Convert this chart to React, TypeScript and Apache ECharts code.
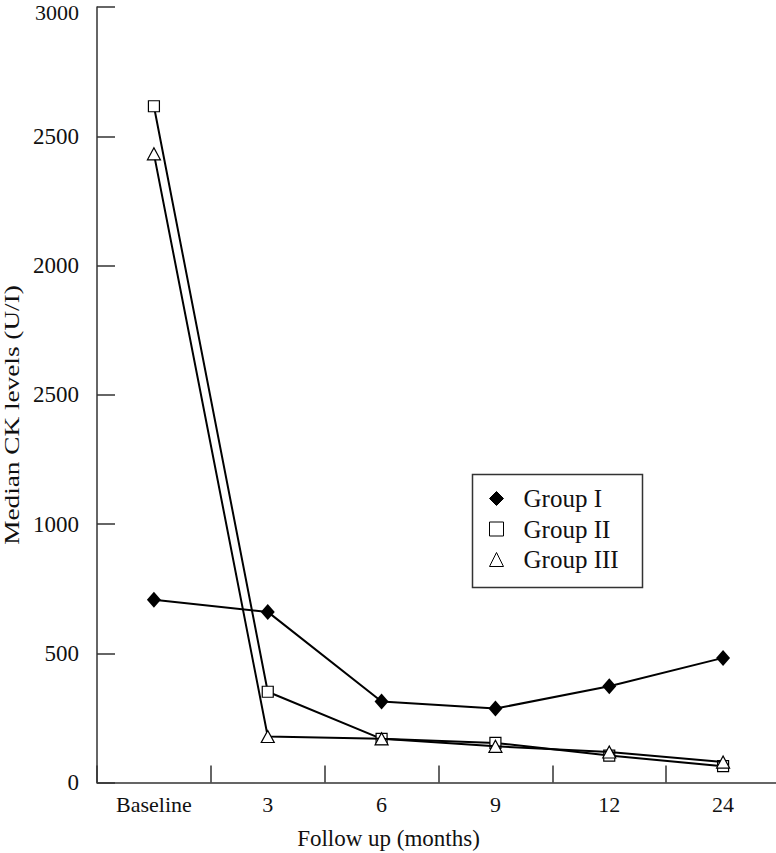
import React, { useEffect, useRef } from "react";
import * as echarts from "echarts";

const categories = ["Baseline", "3", "6", "9", "12", "24"];
const groupI = [707, 660, 313, 286, 372, 482];
const groupII = [2616, 351, 169, 153, 104, 63];
const groupIII = [2432, 178, 169, 140, 118, 79];
const yTickValues = [0, 500, 1000, 1500, 2000, 2500, 3000];
const yTickLabels = ["0", "500", "1000", "2500", "2000", "2500", "3000"];
const seriesNames = ["Group I", "Group II", "Group III"];
const xAxisTitle = "Follow up (months)";
const yAxisTitle = "Median CK levels (U/I)";

const FONT = "'Liberation Serif', 'Times New Roman', serif";

export default function App() {
  const ref = useRef<HTMLDivElement>(null);
  useEffect(() => {
    if (!ref.current) return;
    const chart = echarts.init(ref.current, undefined, { renderer: "svg" });
    const lineStyle = { color: "#000", width: 2 };
    const yMax = yTickValues[yTickValues.length - 1];
    chart.setOption({
      animation: false,
      backgroundColor: "#fff",
      grid: {
        left: 97,
        right: -4,
        top: 7,
        bottom: 70.5,
        containLabel: false,
        outerBoundsMode: "none",
      },
      xAxis: {
        type: "category",
        data: categories,
        boundaryGap: true,
        name: xAxisTitle,
        nameLocation: "middle",
        nameGap: 44,
        nameTextStyle: {
          fontFamily: FONT,
          fontSize: 23,
          color: "#111",
          padding: [0, 100, 0, 0],
        },
        axisLine: { show: true, lineStyle: { color: "#333", width: 1.5 } },
        axisTick: {
          show: true,
          inside: true,
          length: 17,
          alignWithLabel: false,
          lineStyle: { color: "#333", width: 1.5 },
        },
        axisLabel: { fontFamily: FONT, fontSize: 22, color: "#111", margin: 11 },
        splitLine: { show: false },
      },
      yAxis: {
        type: "value",
        min: 0,
        max: yMax,
        interval: 500,
        axisLine: { show: true, lineStyle: { color: "#333", width: 1.5 } },
        axisTick: {
          show: true,
          inside: true,
          length: 18,
          lineStyle: { color: "#333", width: 1.5 },
        },
        axisLabel: {
          fontFamily: FONT,
          fontSize: 23,
          lineHeight: 14,
          color: "#111",
          margin: 18,
          formatter: (v: number) => {
            const i = yTickValues.indexOf(v);
            if (i < 0) return "";
            return v === yMax ? `{top|${yTickLabels[i]}}` : yTickLabels[i];
          },
          rich: {
            top: {
              fontFamily: FONT,
              fontSize: 22,
              lineHeight: 14,
              color: "#111",
              padding: [10, 0, 0, 0],
            },
          },
        },
        splitLine: { show: false },
      },
      legend: {
        orient: "vertical",
        left: 489,
        top: 486,
        padding: 0,
        itemWidth: 14,
        itemHeight: 14,
        itemGap: 5.5,
        symbolKeepAspect: true,
        textStyle: {
          fontFamily: FONT,
          fontSize: 25,
          color: "#111",
          padding: [0, 0, 0, 15],
        },
        itemStyle: { borderWidth: 1 },
        data: [
          { name: seriesNames[0], icon: "diamond" },
          { name: seriesNames[1], icon: "rect" },
          { name: seriesNames[2], icon: "triangle" },
        ],
      },
      graphic: [
        {
          type: "rect",
          left: 470,
          top: 472,
          shape: { width: 170, height: 113 },
          style: { fill: "none", stroke: "#333", lineWidth: 1.5 },
          z: 10,
        },
        {
          type: "text",
          x: 11,
          y: 415,
          rotation: Math.PI / 2,
          scaleX: 1.24,
          style: {
            text: yAxisTitle,
            fontFamily: FONT,
            fontSize: 22,
            fill: "#111",
            align: "center",
            verticalAlign: "middle",
          },
          z: 10,
        },
      ],
      series: [
        {
          name: seriesNames[0],
          type: "line",
          data: groupI,
          symbol: "diamond",
          symbolSize: [14, 16],
          lineStyle,
          itemStyle: { color: "#000", borderColor: "#000", borderWidth: 0 },
          z: 3,
        },
        {
          name: seriesNames[1],
          type: "line",
          data: groupII,
          symbol: "rect",
          symbolSize: 11,
          lineStyle,
          itemStyle: { color: "#fff", borderColor: "#000", borderWidth: 1.2 },
          z: 2,
        },
        {
          name: seriesNames[2],
          type: "line",
          data: groupIII,
          symbol: "triangle",
          symbolSize: [13, 12],
          lineStyle,
          itemStyle: { color: "#fff", borderColor: "#000", borderWidth: 1.2 },
          z: 4,
        },
      ],
    });
    return () => chart.dispose();
  }, []);
  return (
    <div
      ref={ref}
      style={{ position: "absolute", left: 0, top: 0, width: 776, height: 853 }}
    />
  );
}
